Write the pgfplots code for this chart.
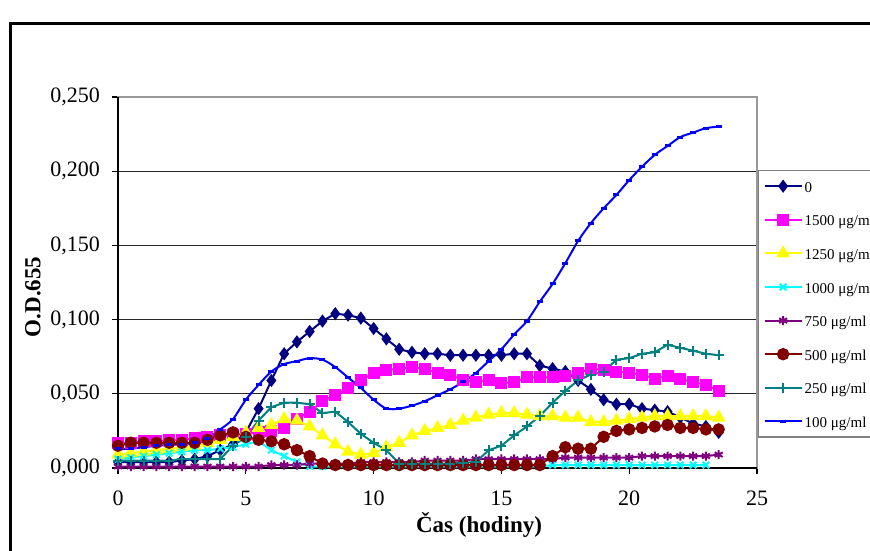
\documentclass[border=0pt]{standalone}
\usepackage{fontspec}
\setmainfont{Liberation Serif}
\usepackage{pgfplots}
\usepackage{pgfplotstable}
\pgfplotsset{compat=1.18}
\definecolor{cNavy}{HTML}{000080}
\definecolor{cMag}{HTML}{FF00FF}
\definecolor{cYel}{HTML}{FFFF00}
\definecolor{cCyan}{HTML}{00FFFF}
\definecolor{cPurp}{HTML}{800080}
\definecolor{cDRed}{HTML}{800000}
\definecolor{cTeal}{HTML}{008080}
\definecolor{cBlue}{HTML}{0000FF}

\pgfplotstableread{
t    a      b      c      d      e      f      g      h
0    0.004  0.017  0.009  0.006  0.001  0.015  0.005  0.013
0.5  0.004  0.017  0.010  0.007  0.001  0.017  0.005  0.013
1    0.004  0.018  0.011  0.008  0.001  0.017  0.005  0.014
1.5  0.004  0.018  0.012  0.009  0.001  0.017  0.005  0.015
2    0.004  0.019  0.013  0.010  0.001  0.017  0.005  0.0155
2.5  0.005  0.019  0.014  0.011  0.001  0.017  0.006  0.016
3    0.006  0.020  0.015  0.012  0.001  0.017  0.006  0.017
3.5  0.008  0.021  0.017  0.012  0.001  0.019  0.006  0.020
4    0.012  0.022  0.019  0.013  0.001  0.022  0.006  0.026
4.5  0.016  0.022  0.021  0.014  0.001  0.024  0.015  0.033
5    0.024  0.023  0.024  0.016  0.001  0.021  0.021  0.046
5.5  0.040  0.024  0.027  0.018  0.001  0.019  0.032  0.056
6    0.059  0.025  0.029  0.012  0.002  0.018  0.041  0.065
6.5  0.077  0.027  0.033  0.008  0.002  0.016  0.044  0.070
7    0.085  0.033  0.032  0.004  0.002  0.012  0.044  0.072
7.5  0.092  0.038  0.028  0.001  0.003  0.008  0.043  0.074
8    0.099  0.045  0.022  0.001  0.003  0.003  0.037  0.073
8.5  0.104  0.049  0.016  0.001  0.003  0.002  0.038  0.068
9    0.103  0.054  0.011  0.001  0.003  0.002  0.031  0.061
9.5  0.101  0.059  0.009  0.001  0.004  0.002  0.023  0.054
10   0.094  0.064  0.010  0.001  0.004  0.002  0.017  0.046
10.5 0.087  0.066  0.014  0.001  0.004  0.002  0.012  0.040
11   0.080  0.067  0.017  0.001  0.004  0.002  0.003  0.040
11.5 0.078  0.068  0.022  0.001  0.004  0.002  0.003  0.042
12   0.077  0.067  0.025  0.001  0.005  0.002  0.003  0.045
12.5 0.077  0.064  0.027  0.001  0.005  0.002  0.003  0.049
13   0.076  0.063  0.029  0.001  0.005  0.002  0.003  0.053
13.5 0.076  0.059  0.032  0.001  0.005  0.002  0.0035 0.058
14   0.076  0.058  0.034  0.001  0.006  0.002  0.004  0.064
14.5 0.076  0.059  0.036  0.001  0.006  0.002  0.012  0.072
15   0.076  0.057  0.037  0.001  0.006  0.002  0.015  0.080
15.5 0.077  0.058  0.037  0.001  0.006  0.002  0.022  0.090
16   0.077  0.061  0.036  0.001  0.006  0.002  0.028  0.099
16.5 0.069  0.061  0.035  0.001  0.006  0.002  0.035  0.112
17   0.067  0.061  0.035  0.002  0.006  0.008  0.044  0.124
17.5 0.065  0.062  0.034  0.002  0.007  0.014  0.052  0.138
18   0.059  0.064  0.034  0.002  0.007  0.013  0.059  0.153
18.5 0.053  0.067  0.031  0.002  0.007  0.013  0.063  0.165
19   0.046  0.066  0.031  0.002  0.007  0.021  0.065  0.175
19.5 0.043  0.065  0.032  0.002  0.007  0.025  0.073  0.184
20   0.043  0.064  0.033  0.002  0.007  0.026  0.074  0.194
20.5 0.040  0.063  0.034  0.002  0.008  0.027  0.077  0.203
21   0.039  0.060  0.035  0.002  0.008  0.028  0.078  0.211
21.5 0.038  0.062  0.035  0.002  0.008  0.029  0.083  0.217
22   0.034  0.060  0.035  0.002  0.008  0.027  0.081  0.223
22.5 0.030  0.058  0.035  0.002  0.008  0.027  0.079  0.226
23   0.028  0.056  0.035  0.002  0.008  0.026  0.077  0.229
23.5 0.024  0.052  0.034  nan    0.009  0.026  0.076  0.230
}\data

\begin{document}
\begin{tikzpicture}
\useasboundingbox (0,0) rectangle (435pt,275pt);
\draw[line width=1.5pt] (5.25pt,-10pt) -- (5.25pt,263.25pt) -- (450pt,263.25pt);
\begin{axis}[
  at={(59pt,41pt)}, anchor=south west,
  scale only axis, width=319.5pt, height=185.5pt,
  xmin=0, xmax=25, ymin=0, ymax=0.25,
  xtick={0,5,10,15,20,25},
  ytick={0,0.05,0.1,0.15,0.2,0.25},
  /pgf/number format/assume math mode=true,
  ticklabel style={font=\fontsize{11}{13}\selectfont},
  xticklabel style={yshift=-5pt},
  yticklabel style={xshift=-2.5pt, /pgf/number format/.cd, fixed, fixed zerofill, precision=3, use comma},
  tick pos=left, tick align=outside, major tick length=3pt,
  tick style={black, line width=0.6pt},
  ymajorgrids, grid style={black!85, line width=0.6pt},
  axis line style={gray!80, line width=0.7pt},
  clip=false,
  xlabel={Čas (hodiny)}, ylabel={O.D.655},
  label style={font=\bfseries\fontsize{11.5}{14}\selectfont},
  xlabel style={at={(axis description cs:0.565,-0.154)}, anchor=center},
  ylabel style={at={(axis description cs:-0.133,0.461)}, anchor=center},
  legend style={at={(1.0016,0.8032)}, anchor=north west, draw=gray, line width=0.6pt,
    font=\fontsize{7.5}{9}\selectfont, inner xsep=2.5pt, inner ysep=3.3pt, row sep=7.8pt,
    nodes={inner sep=1pt, text height=6.5pt, text depth=0.5pt}},
  legend cell align=left,
  legend image code/.code={\draw[mark repeat=2,mark phase=2] plot coordinates {(0pt,0pt) (9.25pt,0pt) (18.5pt,0pt)};},
  every axis plot/.append style={line width=1pt},
]
\draw[black, line width=0.7pt] (rel axis cs:0,1) -- (rel axis cs:0,0) -- (rel axis cs:1,0);
\addplot[color=cNavy, mark=diamond*, mark size=2.5pt, mark options={solid}] table[x=t,y=a]{\data};
\addlegendentry{0}
\addplot[color=cMag, mark=square*, mark size=2.5pt, mark options={solid}] table[x=t,y=b]{\data};
\addlegendentry{1500 μg/ml}
\addplot[color=cYel, mark=triangle*, mark size=3pt, mark options={solid}] table[x=t,y=c]{\data};
\addlegendentry{1250 μg/ml}
\addplot[color=cCyan, mark=x, mark size=2.3pt, mark options={solid}] table[x=t,y=d]{\data};
\addlegendentry{1000 μg/ml}
\addplot[color=cPurp, mark=asterisk, mark size=2.3pt, mark options={solid}] table[x=t,y=e]{\data};
\addlegendentry{750 μg/ml}
\addplot[color=cDRed, mark=*, mark size=2.6pt, mark options={solid}] table[x=t,y=f]{\data};
\addlegendentry{500 μg/ml}
\addplot[color=cTeal, mark=+, mark size=2.5pt, mark options={solid}] table[x=t,y=g]{\data};
\addlegendentry{250 μg/ml}
\addplot[color=cBlue, smooth, mark=-, mark size=1.5pt, mark options={solid, line width=1.5pt}] table[x=t,y=h]{\data};
\addlegendentry{100 μg/ml}
\end{axis}
\end{tikzpicture}
\end{document}
